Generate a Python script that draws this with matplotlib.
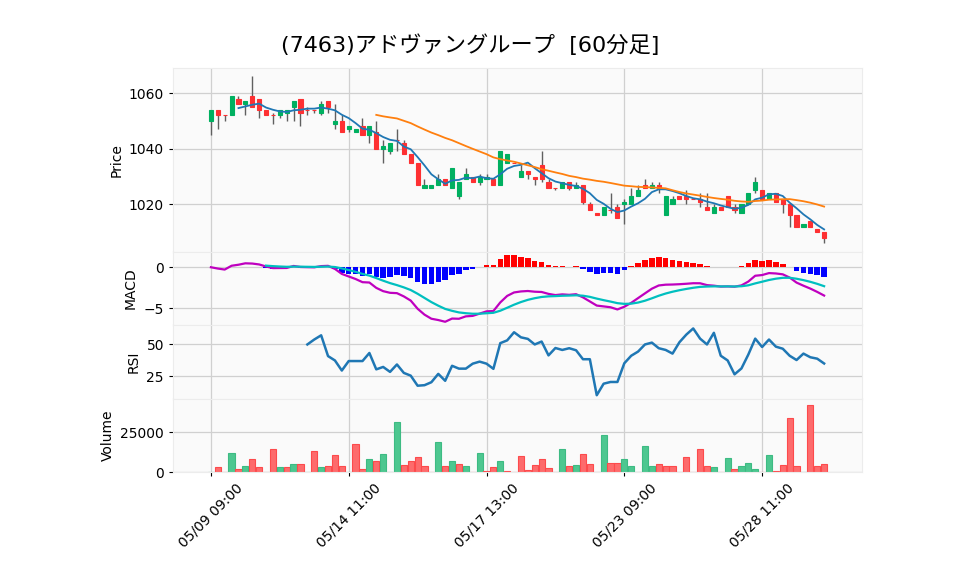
import numpy as np
import pandas as pd
import matplotlib
matplotlib.use('Agg')
import matplotlib.pyplot as plt

# ---- data (60-minute bars, 7463) ----
days = ['05/09', '05/10', '05/13', '05/14', '05/15', '05/16', '05/17', '05/20',
        '05/21', '05/22', '05/23', '05/24', '05/27', '05/28', '05/29']
hours = ['09:00', '10:00', '11:00', '12:00', '13:00', '14:00']

opens = [1050, 1054, 1052, 1052, 1058, 1056, 1059, 1058, 1054, 1052,
         1052, 1053, 1055, 1058, 1054, 1054, 1053, 1057, 1049, 1050,
         1047, 1046, 1048, 1045, 1046, 1040, 1039, 1043, 1042, 1038,
         1035, 1026, 1026, 1027, 1029, 1026, 1023, 1029, 1030, 1028,
         1029, 1029, 1027, 1035, 1035, 1030, 1032, 1030, 1034, 1028,
         1026, 1026, 1028, 1026, 1027, 1020, 1017, 1016, 1018, 1019,
         1020, 1020, 1023, 1027, 1026, 1027, 1016, 1020, 1023, 1023,
         1022, 1022, 1019, 1017, 1019, 1023, 1019, 1017, 1020, 1025,
         1025, 1022, 1024, 1022, 1020, 1016, 1012, 1014, 1011, 1010]
highs = [1054, 1054, 1052, 1059, 1059, 1057, 1066, 1058, 1054, 1053,
         1054, 1054, 1057, 1058, 1055, 1054, 1057, 1057, 1056, 1052,
         1048, 1047, 1051, 1048, 1050, 1043, 1042, 1047, 1043, 1038,
         1035, 1029, 1027, 1031, 1029, 1033, 1028, 1033, 1030, 1031,
         1031, 1029, 1039, 1038, 1035, 1034, 1032, 1030, 1039, 1029,
         1026, 1028, 1028, 1028, 1027, 1021, 1017, 1019, 1024, 1020,
         1022, 1026, 1027, 1029, 1028, 1028, 1023, 1023, 1023, 1025,
         1022, 1024, 1024, 1020, 1019, 1023, 1020, 1020, 1024, 1030,
         1025, 1024, 1024, 1022, 1020, 1016, 1013, 1014, 1011, 1010]
lows = [1045, 1047, 1050, 1052, 1056, 1052, 1055, 1051, 1052, 1049,
        1051, 1050, 1050, 1048, 1052, 1053, 1052, 1053, 1047, 1046,
        1046, 1046, 1045, 1042, 1040, 1035, 1038, 1039, 1038, 1035,
        1027, 1026, 1026, 1027, 1027, 1026, 1022, 1029, 1028, 1027,
        1029, 1027, 1027, 1035, 1035, 1030, 1029, 1027, 1028, 1026,
        1025, 1026, 1025, 1026, 1020, 1018, 1016, 1016, 1017, 1015,
        1013, 1020, 1023, 1026, 1026, 1024, 1016, 1020, 1022, 1020,
        1022, 1019, 1018, 1017, 1018, 1019, 1017, 1017, 1020, 1024,
        1022, 1022, 1021, 1017, 1012, 1012, 1012, 1012, 1010, 1006]
closes = [1054, 1052, 1052, 1059, 1056, 1057, 1055, 1054, 1052, 1052,
          1054, 1054, 1057, 1053, 1054, 1054, 1056, 1055, 1050, 1046,
          1048, 1047, 1045, 1048, 1040, 1041, 1042, 1043, 1038, 1035,
          1027, 1027, 1027, 1029, 1027, 1033, 1028, 1031, 1028, 1030,
          1030, 1027, 1039, 1038, 1035, 1032, 1031, 1029, 1029, 1026,
          1026, 1028, 1026, 1027, 1021, 1018, 1016, 1019, 1018, 1015,
          1021, 1023, 1025, 1026, 1027, 1026, 1023, 1022, 1022, 1022,
          1022, 1021, 1018, 1019, 1018, 1019, 1018, 1020, 1024, 1028,
          1022, 1024, 1021, 1020, 1016, 1012, 1013, 1012, 1010, 1008]
volumes = [0, 3000, 0, 12300, 2100, 4000, 8500, 3400, 0, 14800,
           3400, 3400, 5300, 5300, 0, 13100, 3000, 3600, 10600, 3600,
           0, 17600, 2100, 8000, 7200, 11700, 0, 31400, 4700, 6800,
           9300, 4000, 0, 18900, 3600, 6800, 4900, 3600, 0, 12300,
           900, 3400, 7200, 400, 0, 10400, 1500, 4700, 8500, 2800,
           0, 14400, 3600, 4700, 11700, 5300, 0, 23700, 5900, 5900,
           8000, 3600, 0, 16300, 3600, 5300, 3600, 4000, 0, 9800,
           0, 14400, 3600, 3000, 0, 8700, 1700, 3600, 5500, 1700,
           0, 10600, 900, 4700, 33900, 4000, 0, 42200, 3600, 5300]

title = '(7463)アドヴァングループ  [60分足]'
price_ticks = [1020, 1040, 1060]
macd_ticks = [-5, 0]
rsi_ticks = [25, 50]
vol_ticks = [0, 25000]

# ---- indicators ----
df = pd.DataFrame({'Open': opens, 'High': highs, 'Low': lows,
                   'Close': closes, 'Volume': volumes})
labels = [f'{d} {h}' for d in days for h in hours]
n = len(df)
x = np.arange(n)

ma5 = df['Close'].rolling(5).mean()
ma25 = df['Close'].rolling(25).mean()

ema12 = df['Close'].ewm(span=12, adjust=False).mean()
ema26 = df['Close'].ewm(span=26, adjust=False).mean()
macd = ema12 - ema26
signal = macd.ewm(span=9, adjust=False, min_periods=9).mean()
hist = macd - signal

delta = df['Close'].diff()
gain = delta.clip(lower=0).rolling(14).mean()
loss = (-delta.clip(upper=0)).rolling(14).mean()
rsi = 100 - 100 / (1 + gain / loss)

# ---- style ----
UP, DOWN = '#00b060', '#fe3032'
VUP, VDOWN = '#4dc790', '#fd6b6c'
FACE, GRID = '#fafafa', '#d0d0d0'

fig = plt.figure(figsize=(9.58, 5.75), dpi=100)
gs = fig.add_gridspec(4, 1, height_ratios=[5, 2, 2, 2], hspace=0,
                      left=0.1806, right=0.8998, top=0.8817, bottom=0.1791)
axes = [fig.add_subplot(gs[i]) for i in range(4)]
for i in range(1, 4):
    axes[i].sharex(axes[0])
ax_p, ax_m, ax_r, ax_v = axes

for ax in axes:
    ax.set_facecolor(FACE)
    ax.grid(True, color=GRID, linewidth=0.9)
    ax.set_axisbelow(True)
    for s in ax.spines.values():
        s.set_color('#ececec')
    ax.tick_params(labelsize=10, length=3)

# Price: candles + moving averages
up = df['Close'] > df['Open']
ccol = np.where(up, UP, DOWN)
ax_p.vlines(x, df['Low'], df['High'], color='#606060', linewidth=1, zorder=2)
ax_p.bar(x, (df['Close'] - df['Open']).abs(), bottom=np.minimum(df['Open'], df['Close']),
         width=0.6, color=ccol, edgecolor=ccol, linewidth=0.8, zorder=3)
ax_p.plot(x, ma5, color='#1f77b4', linewidth=1.3, zorder=4)
ax_p.plot(x, ma25, color='#ff7f0e', linewidth=1.3, zorder=4)
rng = df['High'].max() - df['Low'].min()
ax_p.set_ylim(df['Low'].min() - 0.05 * rng, df['High'].max() + 0.05 * rng)
ax_p.set_yticks(price_ticks)
ax_p.set_ylabel('Price', fontsize=10)

# MACD
hcol = np.where(hist >= 0, '#ff0000', '#0000ff')
ax_m.bar(x, hist, width=0.8, color=hcol, zorder=2)
ax_m.plot(x, macd, color='#bf00bf', linewidth=1.6, zorder=3)
ax_m.plot(x, signal, color='#00bfbf', linewidth=1.6, zorder=3)
ax_m.set_yticks(macd_ticks)
ax_m.set_ylabel('MACD', fontsize=10)

# RSI
ax_r.plot(x, rsi, color='#1f77b4', linewidth=1.8)
ax_r.set_yticks(rsi_ticks)
ax_r.set_ylabel('RSI', fontsize=10)

# Volume (colour from close vs previous close)
prev = df['Close'].shift(1)
vup = df['Close'] > prev
vup.iloc[0] = up.iloc[0]
vcol = np.where(vup, VUP, VDOWN)
vedge = np.where(vup, '#3dbb83', '#fd4a4c')
ax_v.bar(x, df['Volume'], width=0.9, color=vcol, edgecolor=vedge, linewidth=0.8)
ax_v.set_ylim(0, 1.1 * df['Volume'].max())
ax_v.set_yticks(vol_ticks)
ax_v.set_ylabel('Volume', fontsize=10)

tick_pos = list(range(0, n, 20))
ax_v.set_xticks(tick_pos)
ax_v.set_xticklabels([labels[i] for i in tick_pos], rotation=45, fontsize=10)
ax_v.set_xlim(-5.5, n - 1 + 5.5)
for ax in axes[:3]:
    ax.tick_params(axis='x', which='both', bottom=False, labelbottom=False)

fig.text(0.4906, 0.922, title, ha='center', va='center', fontsize=16,
         family=['DejaVu Sans', 'Noto Sans CJK JP'])

plt.savefig('out.png', dpi=100)
plt.close()
